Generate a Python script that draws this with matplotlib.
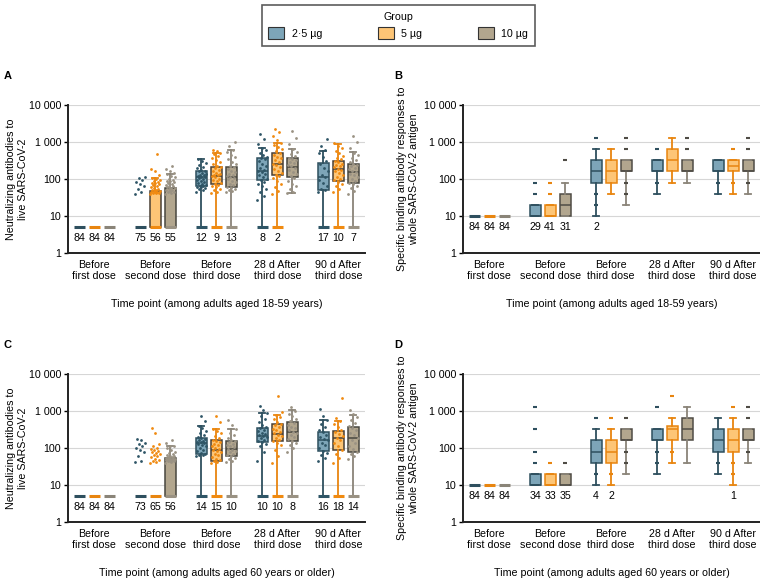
import matplotlib
matplotlib.use("Agg")
import matplotlib.pyplot as plt
from matplotlib.patches import Patch
import numpy as np

plt.rcParams["font.family"] = ["Liberation Sans", "DejaVu Sans"]
plt.rcParams["font.size"] = 7.7

TIMEPOINTS = ["Before\nfirst dose", "Before\nsecond dose", "Before\nthird dose",
              "28 d After\nthird dose", "90 d After\nthird dose"]
GROUPS = ["2·5 µg", "5 µg", "10 µg"]

FILL = ["#7da5b8", "#fdc576", "#b2a68e"]
DOT = ["#2e5566", "#f08a10", "#9a9283"]
DARK = ["#2e4f5e", "#e8850f", "#8a8478"]
EDGE_NT = ["#2e4f5e", "#4a4036", "#48463f"]
EDGE_BIND = ["#2e4f5e", "#e8850f", "#4f4c45"]

# ---- A: neutralizing antibodies, 18-59 years (rows = time point, cols = group)
A_q1 = [[5, 5, 5], [5, 5, 5], [65, 72, 60], [94, 128, 116], [50, 90, 76]]
A_med = [[5, 5, 5], [5, 5, 5], [113, 123, 111], [165, 250, 215], [111, 186, 158]]
A_q3 = [[5, 5, 5], [5, 48, 56], [168, 210, 210], [362, 495, 362], [275, 308, 255]]
A_lo = [[5, 5, 5], [5, 5, 5], [5, 5, 5], [5, 5, 41], [5, 5, 5]]
A_hi = [[5, 5, 5], [5, 105, 134], [340, 515, 620], [675, 920, 630], [585, 900, 550]]
A_nlod = [[84, 84, 84], [75, 56, 55], [12, 9, 13], [8, 2, 0], [17, 10, 7]]
A_dots = [
    [[], [], []],
    [[40, 45, 55, 65, 75, 85, 95, 105, 110],
     [40, 41, 42, 43, 44, 45, 46, 47, 48, 50, 52, 55, 58, 60, 64, 68, 72, 76, 80, 85,
      90, 95, 100, 105, 130, 160, 190, 480],
     [40, 42, 44, 46, 48, 50, 52, 54, 56, 58, 60, 63, 66, 70, 74, 78, 82, 86, 90, 95,
      100, 110, 120, 134, 150, 170, 190, 220]],
    [[45, 50, 55, 58, 60, 62, 64, 66, 70, 75, 80, 85, 90, 95, 100, 105, 110, 115, 120,
      125, 130, 140, 150, 160, 170, 180, 195, 210, 240, 270, 310, 340],
     [42, 46, 50, 55, 60, 65, 70, 74, 80, 88, 95, 100, 110, 118, 125, 130, 140, 150, 165,
      180, 195, 210, 230, 260, 290, 330, 380, 430, 480, 520, 560, 600],
     [45, 48, 52, 55, 58, 62, 68, 75, 82, 90, 98, 105, 112, 120, 130, 140, 155, 170, 190,
      205, 220, 250, 290, 340, 400, 460, 540, 620, 800, 1000]],
    [[27, 35, 45, 55, 65, 75, 85, 92, 100, 110, 125, 140, 155, 165, 180, 200, 225, 260,
      300, 340, 370, 400, 450, 520, 600, 680, 900, 1200, 1650],
     [40, 48, 60, 75, 90, 105, 120, 130, 150, 170, 190, 215, 240, 260, 290, 320, 360, 400,
      450, 500, 560, 640, 720, 820, 920, 1100, 1500, 1900, 2300],
     [41, 45, 55, 65, 75, 90, 105, 118, 135, 155, 175, 200, 220, 240, 265, 290, 320, 350,
      380, 420, 480, 550, 630, 900, 1300, 2000]],
    [[45, 50, 55, 65, 80, 95, 110, 130, 160, 200, 250, 300, 400, 500, 600, 800, 1200],
     [45, 55, 65, 75, 85, 92, 100, 115, 130, 145, 160, 175, 190, 205, 220, 240, 260, 285,
      310, 340, 380, 430, 500, 580, 680, 800, 950],
     [40, 48, 56, 64, 72, 80, 90, 100, 112, 125, 140, 155, 170, 185, 200, 220, 240, 260,
      290, 330, 380, 450, 520, 700, 1000, 1500]],
]

# ---- C: neutralizing antibodies, 60 years or older
C_q1 = [[5, 5, 5], [5, 5, 5], [70, 46, 61], [145, 152, 152], [85, 87, 76]]
C_med = [[5, 5, 5], [5, 5, 5], [136, 88, 96], [207, 245, 270], [161, 186, 186]]
C_q3 = [[5, 5, 5], [5, 5, 54], [182, 161, 158], [340, 445, 495], [265, 288, 370]]
C_lo = [[5, 5, 5], [5, 5, 5], [5, 5, 5], [5, 5, 5], [5, 5, 5]]
C_hi = [[5, 5, 5], [5, 5, 116], [400, 325, 325], [885, 795, 1090], [560, 525, 795]]
C_nlod = [[84, 84, 84], [73, 65, 56], [14, 15, 10], [10, 10, 8], [16, 18, 14]]
C_dots = [
    [[], [], []],
    [[42, 45, 60, 80, 90, 100, 110, 125, 140, 160, 175],
     [40, 42, 45, 48, 52, 56, 60, 65, 70, 75, 80, 85, 90, 95, 100, 110, 130, 250, 350],
     [40, 42, 44, 45, 46, 47, 48, 49, 50, 51, 52, 53, 54, 55, 56, 58, 60, 62, 65, 70, 75,
      80, 90, 100, 110, 116, 140, 160]],
    [[60, 63, 66, 70, 75, 82, 90, 100, 110, 120, 128, 135, 142, 150, 158, 166, 175, 185,
      200, 220, 250, 290, 340, 400, 550, 750],
     [40, 42, 45, 48, 52, 58, 64, 70, 76, 82, 88, 95, 102, 110, 120, 130, 142, 155, 170,
      190, 215, 250, 290, 325, 500, 750],
     [42, 46, 50, 55, 60, 64, 70, 76, 82, 90, 96, 104, 112, 120, 130, 142, 155, 170, 190,
      220, 260, 320, 420, 590]],
    [[45, 80, 110, 130, 145, 155, 170, 185, 200, 210, 225, 240, 260, 285, 310, 340, 370,
      420, 500, 600, 750, 885, 1100, 1400],
     [40, 60, 90, 120, 140, 155, 170, 190, 210, 230, 250, 270, 300, 330, 370, 420, 460,
      520, 600, 700, 800, 950, 2500],
     [80, 100, 120, 140, 155, 175, 200, 225, 250, 275, 300, 340, 380, 430, 480, 540, 620,
      720, 850, 1000, 1300]],
    [[45, 55, 65, 75, 85, 100, 120, 140, 160, 180, 200, 230, 265, 300, 380, 460, 560, 750,
      1150],
     [40, 55, 70, 88, 110, 135, 160, 185, 210, 240, 270, 300, 360, 440, 525, 650, 2200],
     [50, 60, 70, 80, 95, 115, 140, 165, 190, 220, 260, 300, 350, 400, 480, 580, 700, 850,
      1100]],
]

# ---- B: binding antibodies, 18-59 years
B_q1 = [[10, 10, 10], [10, 10, 10], [80, 80, 160], [160, 160, 160], [160, 160, 160]]
B_med = [[10, 10, 10], [10, 10, 20], [160, 160, 160], [160, 320, 160], [160, 226, 160]]
B_q3 = [[10, 10, 10], [20, 20, 40], [320, 320, 320], [320, 640, 320], [320, 320, 320]]
B_lo = [[10, 10, 10], [10, 10, 10], [10, 40, 20], [40, 80, 80], [40, 40, 40]]
B_hi = [[10, 10, 10], [20, 20, 80], [640, 640, 320], [320, 1280, 320], [320, 320, 320]]
B_nlod = [[84, 84, 84], [29, 41, 31], [2, 0, 0], [0, 0, 0], [0, 0, 0]]
B_fliers = [[[], [], []],
            [[40, 80], [40, 80], [320]],
            [[1280, 40, 20], [], [640, 1280, 80, 40]],
            [[640, 80], [], [640, 1280]],
            [[80], [80, 640], [80, 640, 1280]]]

# ---- D: binding antibodies, 60 years or older
D_q1 = [[10, 10, 10], [10, 10, 10], [40, 40, 160], [160, 160, 160], [80, 80, 160]]
D_med = [[10, 10, 10], [10, 10, 10], [80, 80, 160], [160, 320, 320], [160, 160, 160]]
D_q3 = [[10, 10, 10], [20, 20, 20], [160, 160, 320], [320, 390, 640], [320, 320, 320]]
D_lo = [[10, 10, 10], [10, 10, 10], [10, 10, 20], [20, 40, 40], [20, 10, 40]]
D_hi = [[10, 10, 10], [20, 20, 20], [320, 320, 320], [320, 640, 1280], [640, 640, 320]]
D_nlod = [[84, 84, 84], [34, 33, 35], [4, 2, 0], [0, 0, 0], [0, 1, 0]]
D_fliers = [[[], [], []],
            [[40, 80, 320, 1280], [40], [40]],
            [[640, 20], [640, 20], [640, 80, 40]],
            [[1280, 80, 40], [2560, 80], []],
            [[40], [1280, 40, 20], [640, 1280, 80]]]

OFFS = [-0.245, 0.0, 0.245]
W = 0.18


def draw_panel(ax, q1, med, q3, lo, hi, nlod, lod, edges, dots=None, fliers=None):
    for t in range(5):
        for g in range(3):
            x = t + OFFS[g]
            flat = q1[t][g] == q3[t][g] == hi[t][g]
            if flat:   # everyone at the detection limit
                ax.hlines(lod, x - W / 2, x + W / 2, color=DARK[g], lw=2.2, zorder=3)
            else:
                st = dict(q1=q1[t][g], med=med[t][g], q3=q3[t][g],
                          whislo=lo[t][g], whishi=hi[t][g], fliers=[])
                ax.bxp([st], positions=[x], widths=W, patch_artist=True,
                       showfliers=False, capwidths=[W * 0.55], manage_ticks=False,
                       boxprops=dict(facecolor=FILL[g], edgecolor=edges[g], lw=1.1),
                       whiskerprops=dict(color=DARK[g], lw=1.3),
                       capprops=dict(color=DARK[g], lw=1.3),
                       medianprops=dict(color=edges[g], lw=1.1), zorder=2)
                if dots is not None and nlod[t][g] > 0:
                    ax.hlines(lod, x - W / 2, x + W / 2, color=DOT[g], lw=2.2, zorder=3)
            if dots is not None and dots[t][g]:
                v = np.array(dots[t][g], dtype=float)
                jit = ((np.arange(len(v)) * 0.618034) % 1 - 0.5) * W * 0.9
                ax.scatter(x + jit, v, s=4, color=DOT[g], lw=0, zorder=4)
            if fliers is not None and fliers[t][g]:
                v = fliers[t][g]
                ax.scatter([x] * len(v), v, marker="_", s=8, lw=1.5,
                           color=edges[g], zorder=4)
            if nlod[t][g] > 0:
                ax.text(x, lod / 2, str(nlod[t][g]), ha="center", va="center")

    ax.set_yscale("log")
    ax.set_ylim(1, 10000)
    ax.set_xlim(-0.43, 4.44)
    ax.set_yticks([1, 10, 100, 1000, 10000], ["1", "10", "100", "1 000", "10 000"])
    ax.yaxis.set_minor_locator(matplotlib.ticker.NullLocator())
    ax.set_xticks(range(5), TIMEPOINTS, linespacing=1.1)
    ax.tick_params(axis="x", length=0, pad=5)
    ax.tick_params(axis="y", length=3, width=1.0, pad=2)
    ax.yaxis.grid(True, color="#d6d6d6", lw=0.8, zorder=0)
    ax.set_axisbelow(True)
    for s in ["top", "right"]:
        ax.spines[s].set_visible(False)
    for s in ["left", "bottom"]:
        ax.spines[s].set_linewidth(1.4)
        ax.spines[s].set_color("#222222")


fig = plt.figure(figsize=(7.6, 5.79), dpi=100)
axA = fig.add_axes([0.0895, 0.563, 0.391, 0.2556])
axB = fig.add_axes([0.609, 0.563, 0.391, 0.2556])
axC = fig.add_axes([0.0895, 0.0984, 0.391, 0.2556])
axD = fig.add_axes([0.609, 0.0984, 0.391, 0.2556])

draw_panel(axA, A_q1, A_med, A_q3, A_lo, A_hi, A_nlod, 5, EDGE_NT, dots=A_dots)
draw_panel(axC, C_q1, C_med, C_q3, C_lo, C_hi, C_nlod, 5, EDGE_NT, dots=C_dots)
draw_panel(axB, B_q1, B_med, B_q3, B_lo, B_hi, B_nlod, 10, EDGE_BIND, fliers=B_fliers)
draw_panel(axD, D_q1, D_med, D_q3, D_lo, D_hi, D_nlod, 10, EDGE_BIND, fliers=D_fliers)

for ax in (axA, axC):
    ax.set_ylabel("Neutralizing antibodies to\nlive SARS-CoV-2")
    ax.yaxis.set_label_coords(-0.135, 0.5)
for ax in (axB, axD):
    ax.set_ylabel("Specific binding antibody responses to\nwhole SARS-CoV-2 antigen")
    ax.yaxis.set_label_coords(-0.148, 0.5)
for ax in (axA, axB):
    ax.set_xlabel("Time point (among adults aged 18-59 years)", labelpad=13)
for ax in (axC, axD):
    ax.set_xlabel("Time point (among adults aged 60 years or older)", labelpad=13)

for lbl, x, y in [("A", 8, 76), ("B", 398, 76), ("C", 8, 345), ("D", 398, 345)]:
    fig.text(x / 760, 1 - y / 579, lbl, fontsize=8, fontweight="bold",
             ha="center", va="center")

handles = [Patch(facecolor=FILL[i], edgecolor="#333333", lw=0.8, label=GROUPS[i])
           for i in range(3)]
leg = fig.legend(handles=handles, loc="upper center", bbox_to_anchor=(0.524, 1.0),
                 ncol=3, title="Group", frameon=True, fancybox=False,
                 edgecolor="#333333", handlelength=1.5, handleheight=1.4,
                 handletextpad=0.7, columnspacing=5.2, borderpad=0.6,
                 title_fontsize=7.7)
leg.get_frame().set_linewidth(1.2)

fig.savefig("out.png", dpi=100)
